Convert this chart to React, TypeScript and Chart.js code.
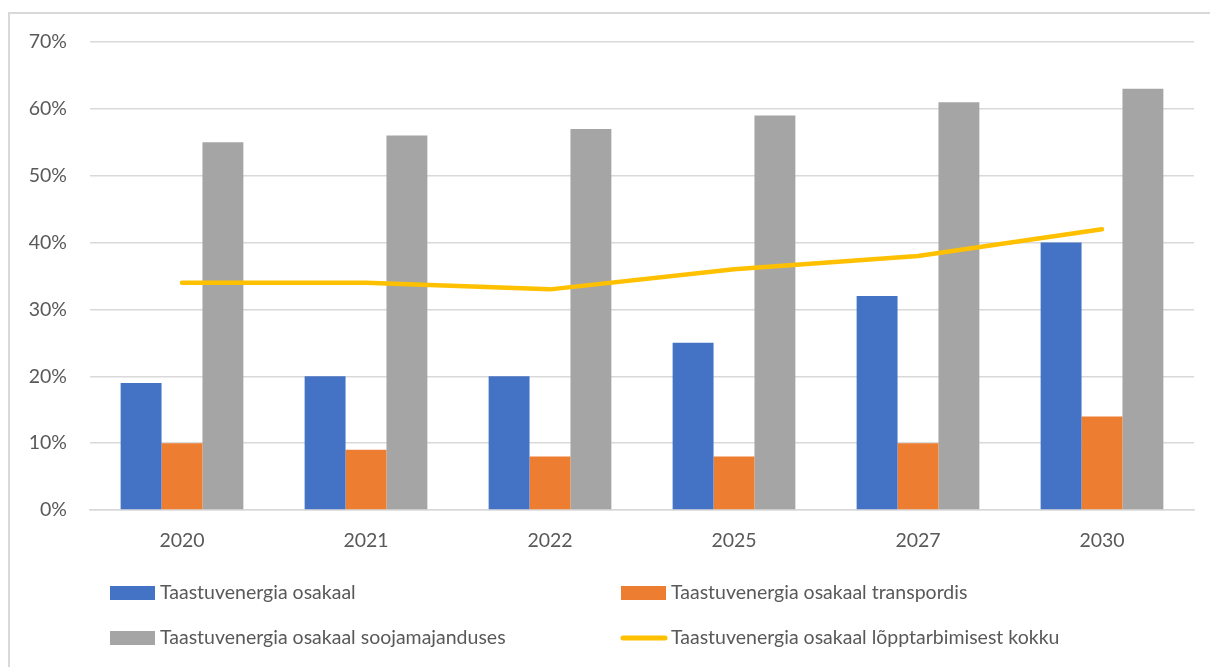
import React, { useEffect, useRef } from "react";
import { Chart, registerables } from "chart.js";

Chart.register(...registerables);

const categories = ["2020", "2021", "2022", "2025", "2027", "2030"];
const seriesNames = [
  "Taastuvenergia osakaal",
  "Taastuvenergia osakaal transpordis",
  "Taastuvenergia osakaal soojamajanduses",
  "Taastuvenergia osakaal lõpptarbimisest kokku",
];
const totalShare = [19, 20, 20, 25, 32, 40];
const transportShare = [10, 9, 8, 8, 10, 14];
const heatingShare = [55, 56, 57, 59, 61, 63];
const finalConsumptionShare = [34, 34, 33, 36, 38, 42];
const yTicks = [0, 10, 20, 30, 40, 50, 60, 70];

const BLUE = "#4472C4";
const ORANGE = "#ED7D31";
const GRAY = "#A5A5A5";
const YELLOW = "#FFC000";
const TEXT = "#595959";
const GRID = "#D9D9D9";
const FONT = "Lato, 'Liberation Sans', sans-serif";
const FONT_SIZE = 19.5;

const frameAndLegend = {
  id: "frameAndLegend",
  afterDraw(chart: any) {
    const ctx = chart.ctx;
    ctx.save();
    // outer frame (left & top)
    ctx.strokeStyle = GRID;
    ctx.lineWidth = 2;
    ctx.beginPath();
    ctx.moveTo(9, 700);
    ctx.lineTo(9, 13);
    ctx.lineTo(1300, 13);
    ctx.stroke();

    // legend, in series order
    const items = seriesNames.map((name) => {
      const d = chart.data.datasets.find((ds: any) => ds.label === name);
      return {
        label: name,
        color: d.type === "line" ? d.borderColor : d.backgroundColor,
        isLine: d.type === "line",
      };
    });
    const cols = [110, 621];
    const rows = [593, 638];
    ctx.font = `${FONT_SIZE}px ${FONT}`;
    ctx.textBaseline = "middle";
    items.forEach((it: any, i: number) => {
      const x = cols[i % 2];
      const y = rows[Math.floor(i / 2)];
      if (it.isLine) {
        ctx.strokeStyle = it.color;
        ctx.lineWidth = 5;
        ctx.lineCap = "round";
        ctx.beginPath();
        ctx.moveTo(x + 2, y);
        ctx.lineTo(x + 44, y);
        ctx.stroke();
      } else {
        ctx.fillStyle = it.color;
        ctx.fillRect(x, y - 7, 45, 14);
      }
      ctx.fillStyle = TEXT;
      ctx.fillText(it.label, x + 50, y);
    });
    ctx.restore();
  },
};

export default function App() {
  const ref = useRef<HTMLCanvasElement | null>(null);
  useEffect(() => {
    if (!ref.current) return;
    const chart = new Chart(ref.current, {
      type: "bar",
      data: {
        labels: categories,
        datasets: [
          {
            type: "line" as const,
            label: seriesNames[3],
            data: finalConsumptionShare,
            borderColor: YELLOW,
            backgroundColor: YELLOW,
            borderWidth: 4.5,
            borderCapStyle: "round",
            borderJoinStyle: "round",
            pointRadius: 0,
            tension: 0,
            order: 0,
          },
          {
            label: seriesNames[0],
            data: totalShare,
            backgroundColor: BLUE,
            order: 1,
          },
          {
            label: seriesNames[1],
            data: transportShare,
            backgroundColor: ORANGE,
            order: 1,
          },
          {
            label: seriesNames[2],
            data: heatingShare,
            backgroundColor: GRAY,
            order: 1,
          },
        ] as any,
      },
      options: {
        animation: false,
        responsive: false,
        maintainAspectRatio: false,
        layout: { padding: { top: 42, right: 16, bottom: 107, left: 0 } },
        datasets: {
          bar: { categoryPercentage: 0.667, barPercentage: 1 },
        } as any,
        plugins: {
          legend: { display: false },
          tooltip: { enabled: false },
        },
        scales: {
          x: {
            grid: { display: false, drawTicks: false },
            border: { display: true, color: GRID, width: 1.5 },
            ticks: {
              color: TEXT,
              font: { family: FONT, size: FONT_SIZE },
              padding: 19,
            },
            afterFit: (axis: any) => {
              axis.height = 50;
            },
          },
          y: {
            min: 0,
            max: 70,
            afterBuildTicks: (axis: any) => {
              axis.ticks = yTicks.map((v) => ({ value: v }));
            },
            grid: { color: GRID, lineWidth: 1.5, drawTicks: false },
            border: { display: false },
            ticks: {
              color: TEXT,
              font: { family: FONT, size: FONT_SIZE },
              padding: 23,
              callback: (v: any) => `${v}%`,
            },
            afterFit: (axis: any) => {
              axis.width = 90;
            },
          },
        },
      },
      plugins: [frameAndLegend],
    });
    return () => chart.destroy();
  }, []);

  return (
    <div
      style={{
        position: "fixed",
        left: 0,
        top: 0,
        width: 1210,
        height: 667,
        background: "#fff",
        overflow: "hidden",
      }}
    >
      <canvas ref={ref} width={1210} height={667} style={{ width: 1210, height: 667 }} />
    </div>
  );
}
